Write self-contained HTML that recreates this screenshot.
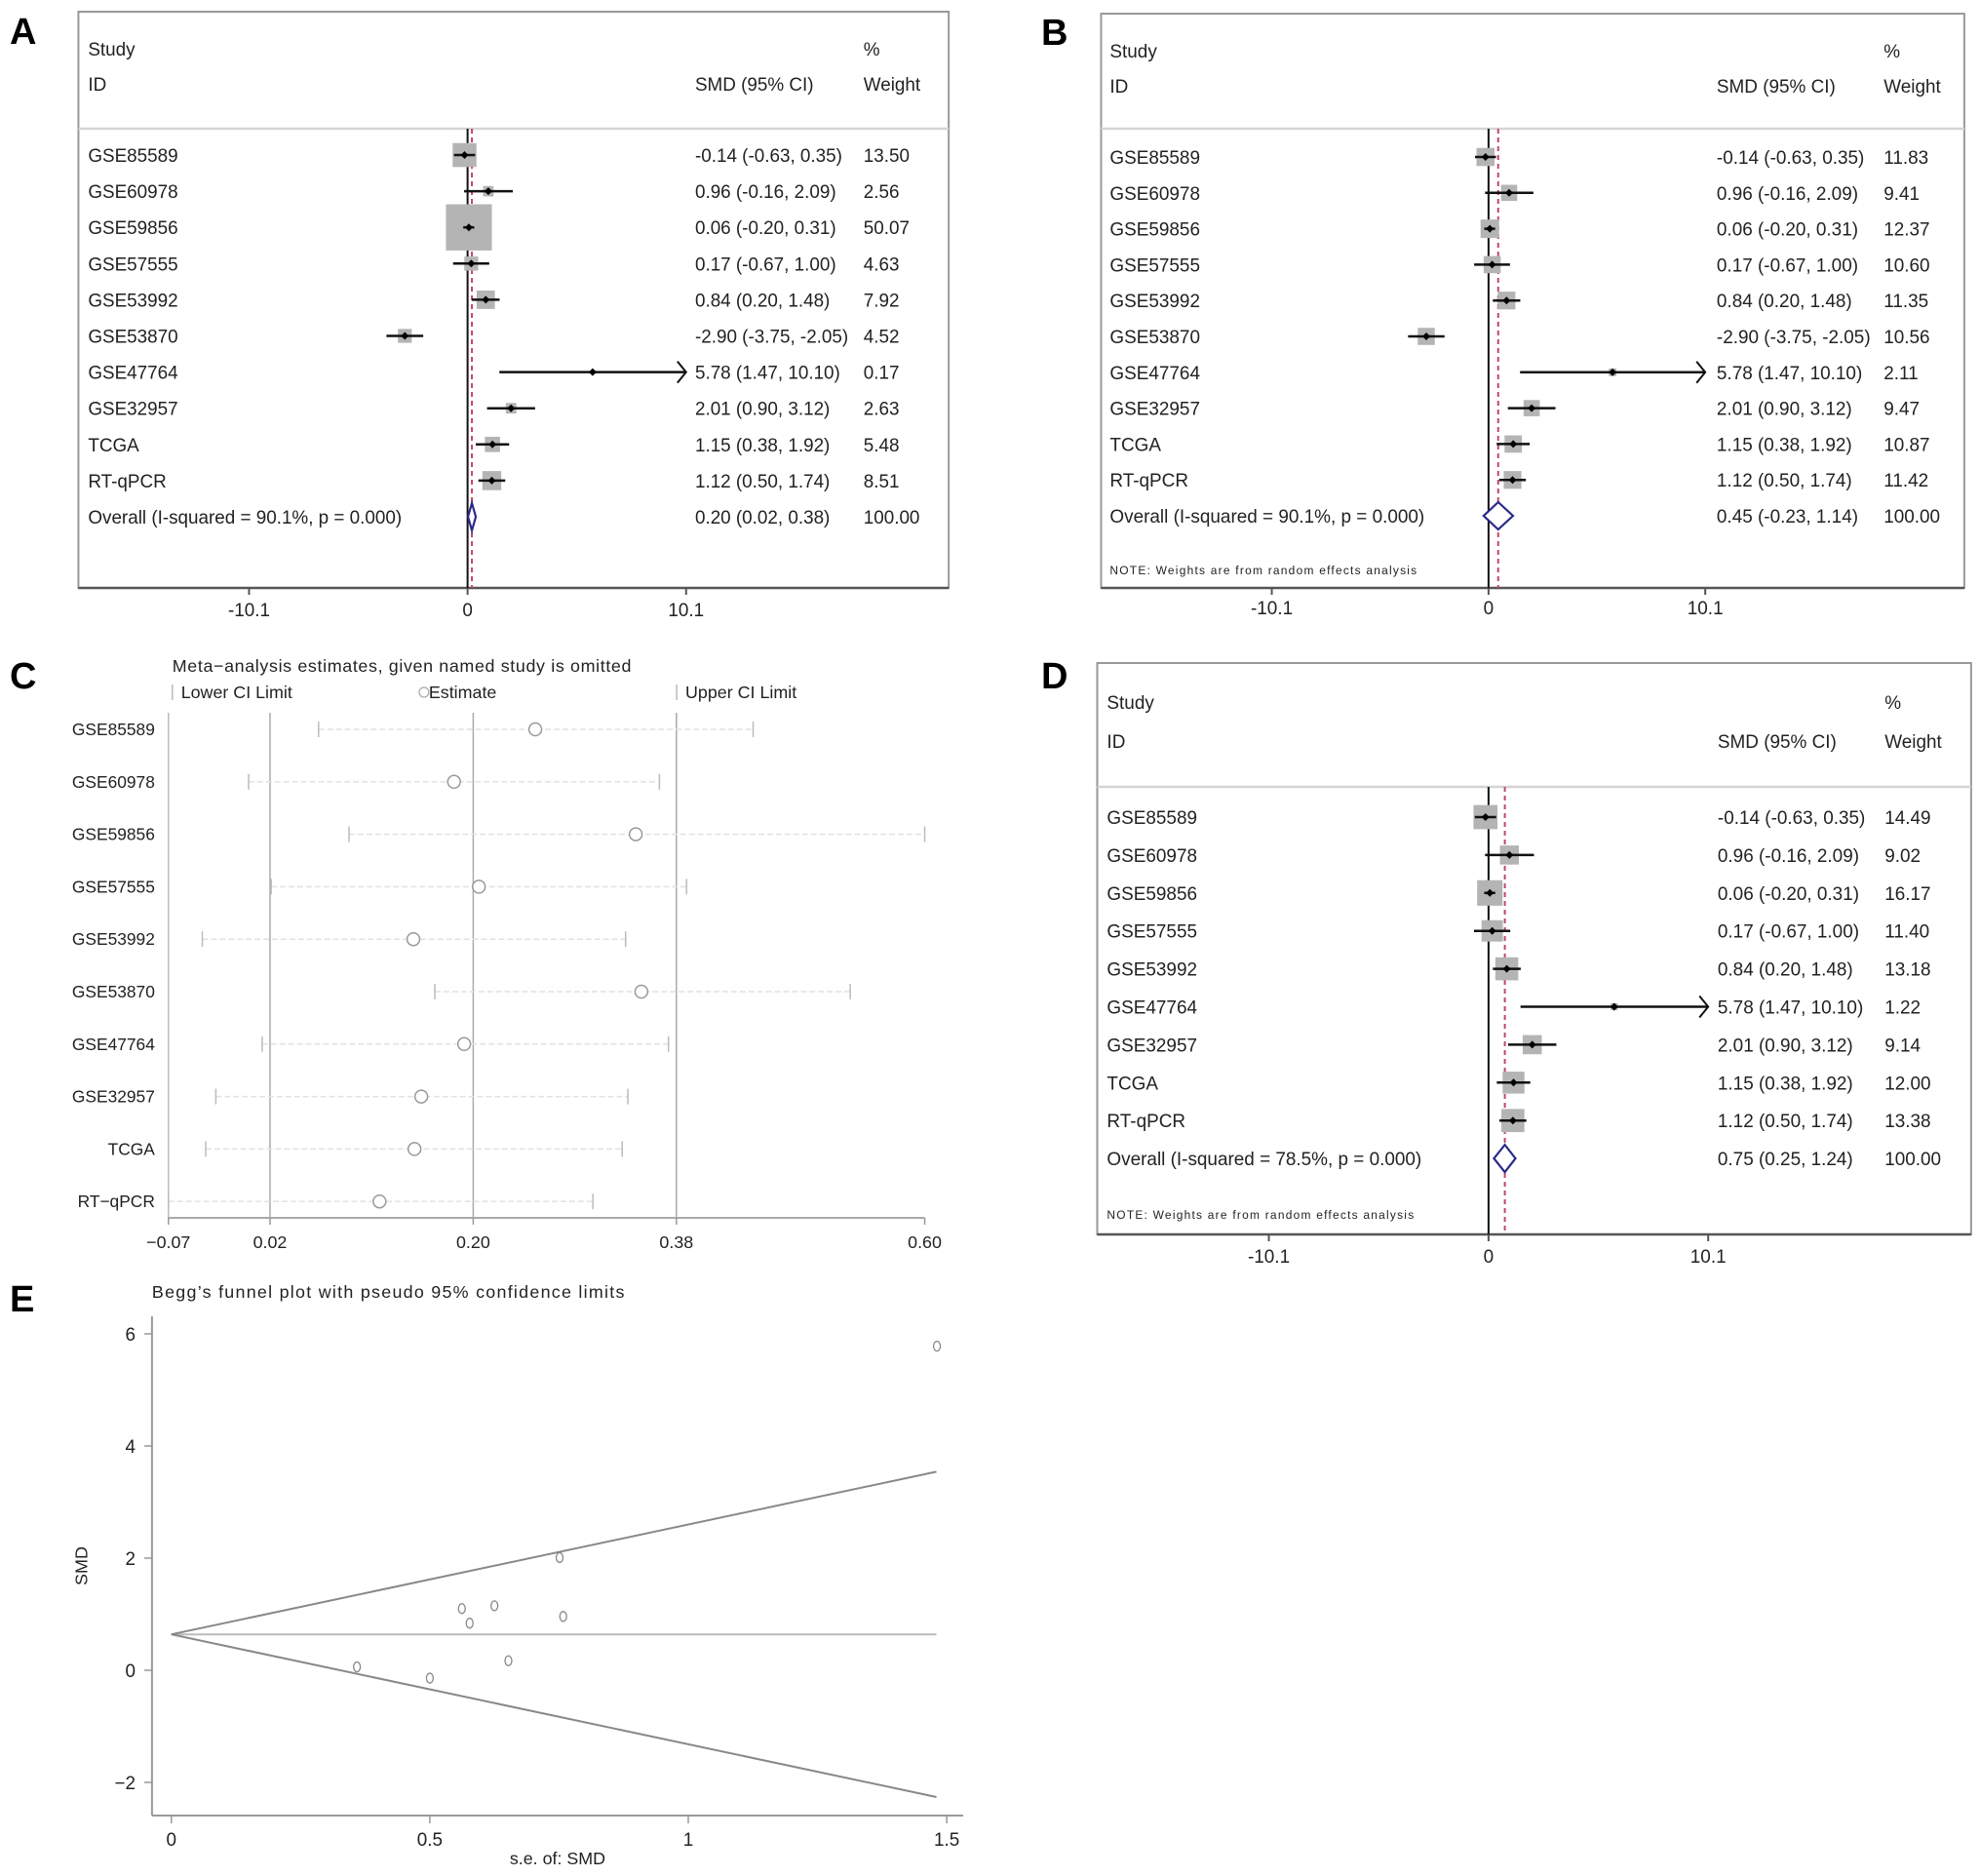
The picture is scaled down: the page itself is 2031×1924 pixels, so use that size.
<!DOCTYPE html>
<html><head><meta charset="utf-8"><style>
html,body{margin:0;padding:0;background:#fff;}
svg{display:block;font-family:"Liberation Sans",Arial,sans-serif;}
</style></head><body>
<svg id="fig" width="2031" height="1924" viewBox="0 0 2031 1924" xmlns="http://www.w3.org/2000/svg">
<rect x="0" y="0" width="2031" height="1924" fill="#fff"/>
<g id="root">
<text x="10" y="45" font-size="38" font-weight="bold">A</text>
<text x="1068" y="46" font-size="38" font-weight="bold">B</text>
<text x="10" y="706" font-size="38" font-weight="bold">C</text>
<text x="1068" y="706" font-size="38" font-weight="bold">D</text>
<text x="10" y="1345" font-size="38" font-weight="bold">E</text>
</g>
</svg>
<script>
// ---- forest plot data ----
const studies = ["GSE85589","GSE60978","GSE59856","GSE57555","GSE53992","GSE53870","GSE47764","GSE32957","TCGA","RT-qPCR"];
const smd = [-0.14,0.96,0.06,0.17,0.84,-2.90,5.78,2.01,1.15,1.12];
const ciLow = [-0.63,-0.16,-0.20,-0.67,0.20,-3.75,1.47,0.90,0.38,0.50];
const ciHigh = [0.35,2.09,0.31,1.00,1.48,-2.05,10.10,3.12,1.92,1.74];
const weightsA = [13.50,2.56,50.07,4.63,7.92,4.52,0.17,2.63,5.48,8.51];
const weightsB = [11.83,9.41,12.37,10.60,11.35,10.56,2.11,9.47,10.87,11.42];
const studiesD = [0,1,2,3,4,6,7,8,9];
const weightsD = [14.49,9.02,16.17,11.40,13.18,1.22,9.14,12.00,13.38];
const overallA = [0.20,0.02,0.38];
const overallB = [0.45,-0.23,1.14];
const overallD = [0.75,0.25,1.24];
const isqA = "90.1%", isqB = "90.1%", isqD = "78.5%";
const forestTicks = [-10.1,0,10.1];
const forestTickLabels = ["-10.1","0","10.1"];
// ---- panel C data ----
const cStudies = ["GSE85589","GSE60978","GSE59856","GSE57555","GSE53992","GSE53870","GSE47764","GSE32957","TCGA","RT\u2212qPCR"];
const cLower = [0.063,0.001,0.090,0.021,-0.040,0.166,0.013,-0.028,-0.037,-0.07];
const cEst = [0.255,0.183,0.344,0.205,0.147,0.349,0.192,0.154,0.148,0.117];
const cUpper = [0.448,0.365,0.600,0.389,0.335,0.534,0.373,0.337,0.332,0.306];
const cTicks = [-0.07,0.02,0.20,0.38,0.60];
const cTickLabels = ["\u22120.07","0.02","0.20","0.38","0.60"];
const cGrid = [0.02,0.20,0.38];
// ---- panel E data ----
const eSe = [1.481,0.751,0.562,0.625,0.577,0.758,0.359,0.500,0.652];
const eSmd = [5.78,2.01,1.10,1.15,0.84,0.96,0.06,-0.14,0.17];
const eCenter = 0.64;
const eSeMax = 1.48;
const eXTicks = [0,0.5,1,1.5];
const eXTickLabels = ["0","0.5","1","1.5"];
const eYTicks = [6,4,2,0,-2];
const eYTickLabels = ["6","4","2","0","\u22122"];

const NS = "http://www.w3.org/2000/svg";
const svg = document.getElementById("root");
function mk(tag, attrs, parent){
  const e = document.createElementNS(NS, tag);
  for (const k in attrs) e.setAttribute(k, attrs[k]);
  (parent||svg).appendChild(e);
  return e;
}
function txt(x,y,s,size,parent,anchor){
  const t = mk("text",{x:x,y:y,"font-size":size,fill:"#222","text-anchor":anchor||"start"},parent);
  t.textContent = s;
  return t;
}
function f2(v){return v.toFixed(2);}

function forest(cfg){
  const g = mk("g",{transform:`scale(${cfg.sx},1)`});
  
  
  const X = v => cfg.zeroX + v*cfg.ppu;
  const fr = mk("rect",{x:cfg.left,y:cfg.top,width:cfg.right-cfg.left,height:cfg.bottom-cfg.top,fill:"none",stroke:"#999","stroke-width":2},g);
  
  
  const ax = mk("line",{x1:cfg.left,x2:cfg.right,y1:cfg.bottom,y2:cfg.bottom,stroke:"#555","stroke-width":2.5},g);
  
  
  const sp = mk("line",{x1:cfg.left,x2:cfg.right,y1:cfg.sep,y2:cfg.sep,stroke:"#d4d4d4","stroke-width":2.5},g);
  
  
  let h;
  h = txt(cfg.studyX,cfg.studyY+7,"Study",19,g);  
  h = txt(cfg.studyX,cfg.idY+7,"ID",19,g);  
  h = txt(cfg.smdX,cfg.idY+7,"SMD (95% CI)",19,g);  
  h = txt(cfg.wX,cfg.studyY+7,"%",19,g);  
  h = txt(cfg.wX,cfg.idY+7,"Weight",19,g);  
  const zl = mk("line",{x1:X(0),x2:X(0),y1:cfg.sep,y2:cfg.bottom,stroke:"#111","stroke-width":2},g);
  
  
  const ol = mk("line",{x1:X(cfg.overall[0]),x2:X(cfg.overall[0]),y1:cfg.sep,y2:cfg.bottom,stroke:"#c4456a","stroke-width":2,"stroke-dasharray":"5,4"},g);
  
  
  cfg.ids.forEach((si,i)=>{
    const y = cfg.firstRow + i*cfg.spacing;
    const lab = txt(cfg.studyX,y+7,studies[si],19,g);
    
    
    const side = cfg.k*Math.sqrt(cfg.weights[i]);
    const b = mk("rect",{x:X(smd[si])-side/2,y:y-side/2,width:side,height:side,fill:"#b4b4b4"},g);
    
    
    const hiV = Math.min(ciHigh[si],10.1);
    const w = mk("line",{x1:X(ciLow[si]),x2:X(hiV),y1:y,y2:y,stroke:"#111","stroke-width":2.5},g);
    
    
    if (ciHigh[si] >= 10.1){
      const ah = mk("path",{d:`M${X(hiV)-9},${y-11} L${X(hiV)},${y} L${X(hiV)-9},${y+11}`,fill:"none",stroke:"#111","stroke-width":2},g);
      
      
    }
    const cx = X(smd[si]);
    const d = mk("path",{d:`M${cx-4},${y} L${cx},${y-4} L${cx+4},${y} L${cx},${y+4}Z`,fill:"#000"},g);
    
    
    const ci = txt(cfg.smdX,y+7,`${f2(smd[si])} (${f2(ciLow[si])}, ${f2(ciHigh[si])})`,19,g);
    
    
    const wt = txt(cfg.wX,y+7,f2(cfg.weights[i]),19,g);
    
    
  });
  const oy = cfg.firstRow + cfg.ids.length*cfg.spacing;
  const olab = txt(cfg.studyX,oy+7,`Overall  (I-squared = ${cfg.isq}, p = 0.000)`,19,g);
  
  
  const o = cfg.overall;
  const dm = mk("path",{d:`M${X(o[1])},${oy} L${X(o[0])},${oy-14} L${X(o[2])},${oy} L${X(o[0])},${oy+14}Z`,fill:"#fff",stroke:"#2a2a8a","stroke-width":2.2},g);
  
  
  const ov = txt(cfg.smdX,oy+7,`${f2(o[0])} (${f2(o[1])}, ${f2(o[2])})`,19,g);
  
  
  const ow = txt(cfg.wX,oy+7,"100.00",19,g);
  
  
  if (cfg.noteY){
    const n = txt(cfg.studyX,cfg.noteY+4,"NOTE: Weights are from random effects analysis",12,g);
    n.setAttribute("textLength",316);
    
    
  }
  forestTicks.forEach((t,i)=>{
    const tk = mk("line",{x1:X(t),x2:X(t),y1:cfg.bottom,y2:cfg.bottom+7,stroke:"#555","stroke-width":2},g);
    
    
    const tl = txt(X(t),cfg.tickY+7,forestTickLabels[i],19,g,"middle");
    
    
  });
}

forest({name:"forest-plot-a",sx:0.993,left:81,top:12,right:980,bottom:603,sep:132,studyY:50,idY:86,firstRow:159,spacing:37.1,
  zeroX:483,ppu:22.35,studyX:91,smdX:718,wX:892,ids:[0,1,2,3,4,5,6,7,8,9],weights:weightsA,overall:overallA,isq:isqA,k:6.7,tickY:625,noteY:0});
forest({name:"forest-plot-b",sx:0.996,left:1134,top:14,right:2023,bottom:603,sep:132,studyY:52,idY:88,firstRow:161,spacing:36.8,
  zeroX:1533,ppu:22.1,studyX:1143,smdX:1768,wX:1940,ids:[0,1,2,3,4,5,6,7,8,9],weights:weightsB,overall:overallB,isq:isqB,k:5.4,tickY:623,noteY:585});
forest({name:"forest-plot-d",sx:0.996,left:1130,top:680,right:2030,bottom:1266,sep:807,studyY:720,idY:760,firstRow:838,spacing:38.9,
  zeroX:1533,ppu:22.4,studyX:1140,smdX:1769,wX:1941,ids:studiesD,weights:weightsD,overall:overallD,isq:isqD,k:6.5,tickY:1288,noteY:1246});

// ---- Panel C ----
(function(){
  const g = mk("g",{transform:"scale(0.993,1)"});
  
  
  const X = v => 174 + (v+0.07)*1166;
  const Y = i => 748 + i*53.8;
  const t = txt(178,689,"Meta\u2212analysis estimates, given named study is omitted",18,g);
  t.setAttribute("textLength",474);
  
  
  const legs = [[178,"Lower CI Limit","line"],[434,"Estimate","circle"],[699,"Upper CI Limit","line"]];
  legs.forEach(l=>{
    const le = mk("g",{},g);
    
    
    if (l[2]==="line") mk("line",{x1:l[0],x2:l[0],y1:702,y2:718,stroke:"#bbb","stroke-width":1.5},le);
    else mk("circle",{cx:l[0]+4,cy:710,r:5,fill:"none",stroke:"#aaa","stroke-width":1.3},le);
    txt(l[0]+9,716,l[1],18,le);
  });
  cGrid.forEach(v=>{
    const gl = mk("line",{x1:X(v),x2:X(v),y1:731,y2:1249,stroke:"#aaa","stroke-width":1.5},g);
    
    
  });
  const ya = mk("line",{x1:174,x2:174,y1:731,y2:1249,stroke:"#bbb","stroke-width":1.5},g);
  
  
  const xa = mk("line",{x1:174,x2:X(0.60),y1:1249,y2:1249,stroke:"#aaa","stroke-width":2},g);
  
  
  cTicks.forEach((v,i)=>{
    const tk = mk("line",{x1:X(v),x2:X(v),y1:1249,y2:1256,stroke:"#999","stroke-width":1.5},g);
    
    
    const tl = txt(X(v),1280,cTickLabels[i],18,g,"middle");
    
    
  });
  cStudies.forEach((s,i)=>{
    const y = Y(i);
    const lab = txt(160,y+6,s,17.5,g,"end");
    
    
    const w = mk("line",{x1:X(cLower[i]),x2:X(cUpper[i]),y1:y,y2:y,stroke:"#e2e2e2","stroke-width":1.5,"stroke-dasharray":"6,3"},g);
    
    
    const lo = mk("line",{x1:X(cLower[i]),x2:X(cLower[i]),y1:y-8,y2:y+8,stroke:"#bbb","stroke-width":1.5},g);
    
    
    const up = mk("line",{x1:X(cUpper[i]),x2:X(cUpper[i]),y1:y-8,y2:y+8,stroke:"#bbb","stroke-width":1.5},g);
    
    
    const c = mk("ellipse",{cx:X(cEst[i]),cy:y,rx:6.5,ry:6.5,fill:"#fff",stroke:"#999","stroke-width":1.5},g);
    
    
  });
})();

// ---- Panel E ----
(function(){
  const g = mk("g",{transform:"scale(0.993,1)"});
  
  
  const X = v => 177 + v*534;
  const Y = v => 1713 - v*57.5;
  const t = txt(157,1331,"Begg\u2019s funnel plot with pseudo 95% confidence limits",18,g);
  t.setAttribute("textLength",488);
  
  
  const ya = mk("line",{x1:157,x2:157,y1:1350,y2:1862,stroke:"#999","stroke-width":2},g);
  
  
  const xa = mk("line",{x1:157,x2:995,y1:1862,y2:1862,stroke:"#999","stroke-width":2},g);
  
  
  eYTicks.forEach((v,i)=>{
    const tk = mk("line",{x1:149,x2:157,y1:Y(v),y2:Y(v),stroke:"#999","stroke-width":1.5},g);
    
    
    const tl = txt(140,Y(v)+7,eYTickLabels[i],19,g,"end");
    
    
  });
  eXTicks.forEach((v,i)=>{
    const tk = mk("line",{x1:X(v),x2:X(v),y1:1862,y2:1870,stroke:"#999","stroke-width":1.5},g);
    
    
    const tl = txt(X(v),1893,eXTickLabels[i],19,g,"middle");
    
    
  });
  const xt = txt(576,1912,"s.e. of: SMD",18,g,"middle");
  
  
  const yt = txt(0,0,"SMD",18,g,"middle");
  yt.setAttribute("transform","translate(90,1606) rotate(-90)");
  
  
  const cl = mk("line",{x1:X(0),x2:X(eSeMax),y1:Y(eCenter),y2:Y(eCenter),stroke:"#bbb","stroke-width":2},g);
  
  
  const up = mk("line",{x1:X(0),x2:X(eSeMax),y1:Y(eCenter),y2:Y(eCenter+1.96*eSeMax),stroke:"#888","stroke-width":2},g);
  
  
  const lo = mk("line",{x1:X(0),x2:X(eSeMax),y1:Y(eCenter),y2:Y(eCenter-1.96*eSeMax),stroke:"#888","stroke-width":2},g);
  
  
  eSe.forEach((s,i)=>{
    const p = mk("ellipse",{cx:X(s),cy:Y(eSmd[i]),rx:3.5,ry:5,fill:"none",stroke:"#888","stroke-width":1.3},g);
    
    
  });
})();
</script>
</body></html>
